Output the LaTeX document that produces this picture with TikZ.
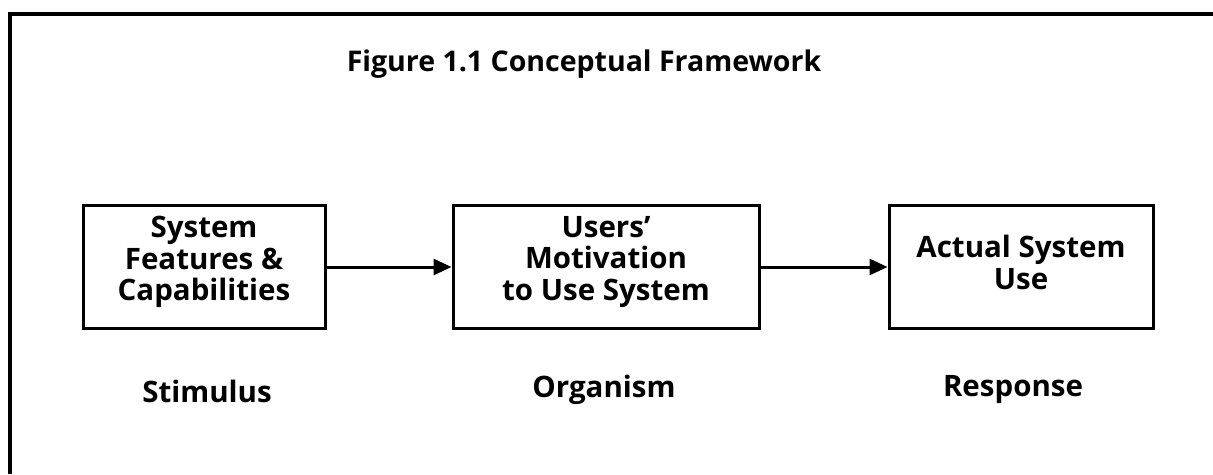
\documentclass[tikz,border=0pt]{standalone}
\usepackage{fontspec}
\setmainfont{Open Sans}
\usetikzlibrary{arrows.meta}
\tikzset{
  frameline/.style={line width=3.4pt},
  blockbox/.style={draw, line width=3pt, minimum width=#1, minimum height=123pt,
    inner sep=0pt, anchor=north},
  blocktext/.style={align=center, inner sep=0pt, font=\bfseries\fontsize{29.5}{31.5}\selectfont},
  flowarrow/.style={line width=3pt, -{Triangle[length=18pt,width=16pt]}},
  rolelabel/.style={font=\bfseries\fontsize{29.5}{32}\selectfont},
  titletext/.style={font=\bfseries\fontsize{28.5}{34}\selectfont}
}
\begin{document}
\begin{tikzpicture}[x=1pt,y=-1pt]
  \useasboundingbox (0,0) rectangle (1213,474);
  % open frame: top and left edges
  \coordinate (ftl) at (10,14);
  \coordinate (ftr) at (1213,14);
  \coordinate (fbl) at (10,474);
  \draw[frameline] (ftr) -- (ftl) -- (fbl);

  \node[titletext] (title) at (584,64) {Figure 1.1 Conceptual Framework};

  % the three stages
  \node[blockbox=242pt] (stim) at (204,204) {};
  \node[blockbox=306pt] (org)  at (606,204) {};
  \node[blockbox=264pt] (resp) at (1021,204) {};

  \node[blocktext] (tstim) at ([yshift=5pt]stim.center) {System\\Features \&\\Capabilities};
  \node[blocktext] (torg)  at ([yshift=5pt]org.center) {Users’\\Motivation\\to Use System};
  \node[blocktext] (tresp) at ([yshift=4.5pt]resp.center) {Actual System\\Use};

  \draw[flowarrow] (stim.east) -- (org.west);
  \draw[flowarrow] (org.east) -- (resp.west);

  \node[rolelabel] (lstim) at (207,391) {Stimulus};
  \node[rolelabel] (lorg)  at (604,390) {Organism};
  \node[rolelabel] (lresp) at (1013,390) {Response};
\end{tikzpicture}
\end{document}
